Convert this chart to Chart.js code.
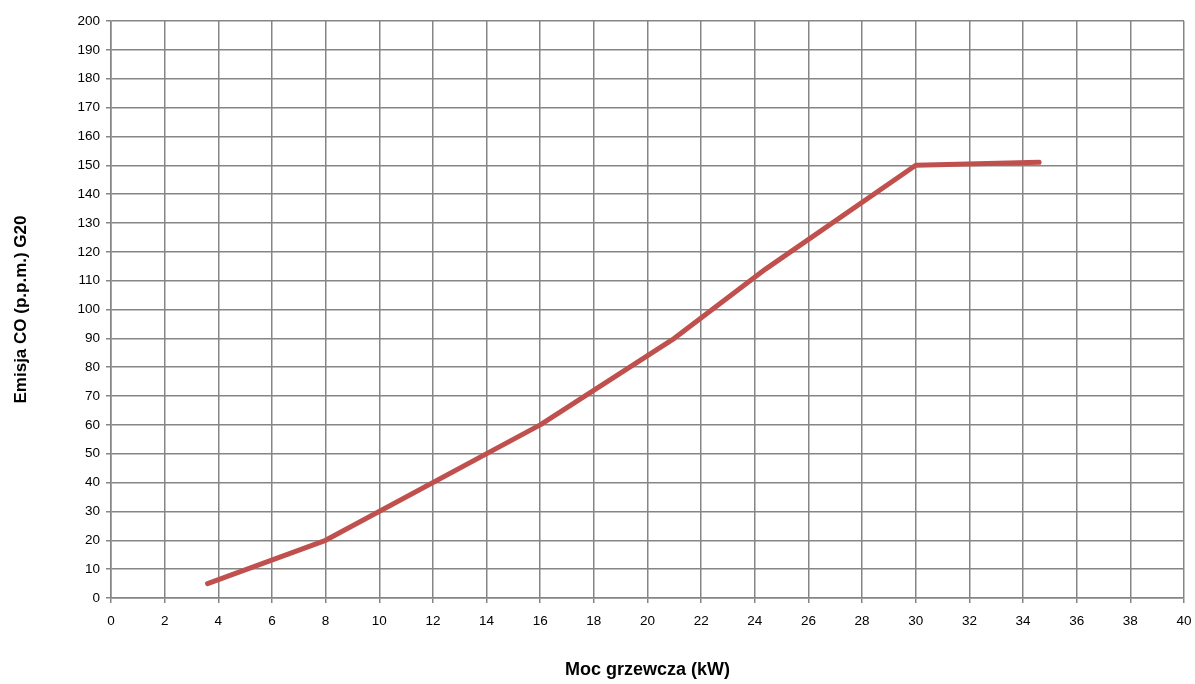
<!DOCTYPE html>
<html>
<head>
<meta charset="utf-8">
<script src="https://cdn.jsdelivr.net/npm/chart.js@4"></script>
<style>
  html, body { margin: 0; padding: 0; background: #fff; }
  #wrap { width: 1195px; height: 684px; }
</style>
</head>
<body>
<div id="wrap"><canvas id="wykres"></canvas></div>
<script>
// moc grzewcza (kW) i emisja CO (p.p.m.)
const moc = [3.6, 8, 16, 21, 24.4, 30, 34.6];
const emisja = [5, 20, 60, 90, 114, 150, 151];

const punkty = moc.map((x, i) => ({ x: x, y: emisja[i] }));

const siatka = '#858585';
const czcionka = "'Liberation Sans', Arial, sans-serif";

new Chart(document.getElementById('wykres'), {
  type: 'line',
  data: {
    datasets: [{
      label: 'G20',
      data: punkty,
      borderColor: '#C0504D',
      borderWidth: 5,
      borderCapStyle: 'round',
      borderJoinStyle: 'round',
      pointRadius: 0,
      tension: 0
    }]
  },
  options: {
    responsive: true,
    maintainAspectRatio: false,
    animation: false,
    layout: { padding: { top: 21, right: 0, left: 0, bottom: 0 } },
    plugins: {
      legend: { display: false },
      tooltip: { enabled: false }
    },
    scales: {
      x: {
        type: 'linear',
        min: 0,
        max: 40,
        ticks: { stepSize: 2, color: '#000', font: { family: czcionka, size: 13.5 }, padding: 10 },
        grid: { color: siatka, lineWidth: 1.5, tickLength: 5, tickColor: siatka },
        border: { color: siatka, width: 1.5 },
        title: {
          display: true,
          text: 'Moc grzewcza (kW)',
          color: '#000',
          font: { family: czcionka, size: 18, weight: 'bold' },
          padding: { top: 0, bottom: 3 }
        },
        afterFit: s => { s.height = 86; s.paddingRight = 11; }
      },
      y: {
        min: 0,
        max: 200,
        ticks: { stepSize: 10, color: '#000', font: { family: czcionka, size: 13.5 }, padding: 6 },
        grid: { color: siatka, lineWidth: 1.5, tickLength: 5, tickColor: siatka },
        border: { color: siatka, width: 1.5 },
        title: {
          display: true,
          text: 'Emisja CO (p.p.m.) G20',
          color: '#000',
          font: { family: czcionka, size: 17, weight: 'bold' },
          padding: { top: 11, bottom: 0 }
        },
        afterFit: s => { s.width = 111; }
      }
    }
  }
});
</script>
</body>
</html>
